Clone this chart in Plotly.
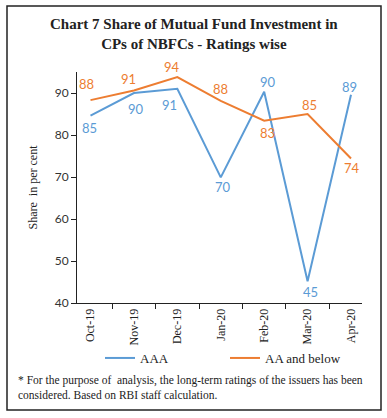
import plotly.graph_objects as go

months = ["Oct-19", "Nov-19", "Dec-19", "Jan-20", "Feb-20", "Mar-20", "Apr-20"]
aaa = [84.6, 90.0, 91.0, 69.9, 90.3, 45.2, 89.6]
aa_below = [88.3, 90.6, 93.8, 88.1, 83.4, 85.0, 74.4]
aaa_labels = ["85", "90", "91", "70", "90", "45", "89"]
aa_labels = ["88", "91", "94", "88", "83", "85", "74"]

# label offsets in pixels (style only)
aaa_dx = [-1, 2, -8, 2, 4, 3, -2]
aaa_dy = [-12, -16, -16, -10, 10, -11, 8]
aa_dx = [-4, -5, -5, 0, 3, 2, 1]
aa_dy = [16, 11, 10, 12, -12, 9, -9]

BLUE = "#5B9BD5"
ORANGE = "#ED7D31"
SERIF = "Liberation Serif, DejaVu Serif, serif"
SANS = "Lato, Open Sans, Liberation Sans, sans-serif"

fig = go.Figure()
fig.add_trace(go.Scatter(x=months, y=aaa, mode="lines", name="AAA",
                         line=dict(color=BLUE, width=2), cliponaxis=False))
fig.add_trace(go.Scatter(x=months, y=aa_below, mode="lines", name="AA and below",
                         line=dict(color=ORANGE, width=2), cliponaxis=False))

for m, v, t, dx, dy in zip(months, aaa, aaa_labels, aaa_dx, aaa_dy):
    fig.add_annotation(x=m, y=v, text=t, showarrow=False, xshift=dx, yshift=dy,
                       font=dict(family=SANS, size=13, color=BLUE))
for m, v, t, dx, dy in zip(months, aa_below, aa_labels, aa_dx, aa_dy):
    fig.add_annotation(x=m, y=v, text=t, showarrow=False, xshift=dx, yshift=dy,
                       font=dict(family=SANS, size=13, color=ORANGE))

fig.update_layout(
    width=387, height=418,
    margin=dict(l=77, r=25, t=72, b=115, autoexpand=False),
    paper_bgcolor="white", plot_bgcolor="white",
    showlegend=True,
    legend=dict(orientation="h", xref="container", yref="container",
                x=100 / 387, xanchor="left", y=1 - 358 / 418, yanchor="middle",
                font=dict(family=SERIF, size=13, color="#222"),
                traceorder="normal", entrywidth=80, bgcolor="rgba(0,0,0,0)"),
    xaxis=dict(type="category", showline=True, linecolor="#222", linewidth=1,
               ticks="outside", tickson="boundaries", ticklen=5, tickcolor="#222",
               tickangle=-90, tickfont=dict(family=SERIF, size=12, color="#222"),
               showgrid=False, automargin=False),
    yaxis=dict(range=[40, 95], tickvals=[40, 50, 60, 70, 80, 90], showline=True,
               linecolor="#222", linewidth=1, ticks="outside", ticklen=5, tickcolor="#222",
               tickfont=dict(family=SANS, size=12, color="#333"), showgrid=False,
               zeroline=False, automargin=False,
               title=dict(text="Share  in per cent", font=dict(family=SERIF, size=12, color="#222"),
                          standoff=14)),
)

# Title
fig.add_annotation(xref="paper", yref="paper", x=(194 - 77) / 285, y=(303 - 34) / 231,
                   xanchor="center", yanchor="middle",
                   text="<b>Chart 7 Share of Mutual Fund Investment in<br>CPs of NBFCs - Ratings wise</b>",
                   showarrow=False, align="center",
                   font=dict(family=SERIF, size=15, color="#222"))

# Footnote
fig.add_annotation(xref="paper", yref="paper", x=(16 - 77) / 285, y=(303 - 372) / 231,
                   xanchor="left", yanchor="top",
                   text="* For the purpose of  analysis, the long-term ratings of the issuers has been<br>considered. Based on RBI staff calculation.",
                   showarrow=False, align="left",
                   font=dict(family=SERIF, size=11.5, color="#222"))

# Frame
fig.add_shape(type="rect", xref="paper", yref="paper",
              x0=(7 - 77) / 285, x1=(381 - 77) / 285, y0=(303 - 410) / 231, y1=(303 - 6) / 231,
              line=dict(color="#222", width=1.5))

fig.write_html("out.html", config={"displayModeBar": False},
               post_script="document.body.style.margin='0';")
